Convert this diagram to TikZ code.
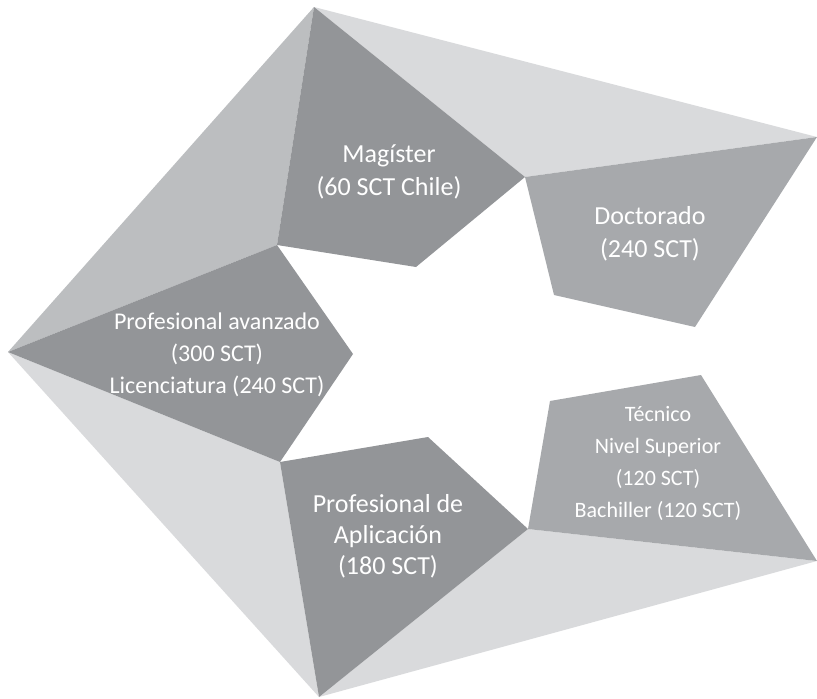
\documentclass[tikz,border=0pt]{standalone}
\usepackage{fontspec}
\setmainfont{Carlito}
\usepackage{tikz}
\usetikzlibrary{calc}

\definecolor{piecedark}{HTML}{939598}
\definecolor{piecemid}{HTML}{A7A9AC}
\definecolor{wedgemid}{HTML}{BCBEC0}
\definecolor{wedgelight}{HTML}{D9DADC}

\begin{document}
\begin{tikzpicture}[x=1pt,y=-1pt,
	grado/.style={text=white, align=center, inner sep=0pt, font=\fontsize{26}{33}\selectfont}]
\useasboundingbox (0,0) rectangle (817,699);
% outer points of the star
\coordinate (left) at (8,352);
\coordinate (top) at (314,7);
\coordinate (right) at (817,137);
\coordinate (rightlow) at (817,561);
\coordinate (bottom) at (319,697);
% inner joints
\coordinate (j1) at (277,245);
\coordinate (j2) at (525,177);
\coordinate (j3) at (528,529);
\coordinate (j4) at (280,462);

% light wedges
\fill[wedgemid] (left) -- (top) -- (j1) -- cycle;
\fill[wedgelight] (top) -- (right) -- (j2) -- cycle;
\fill[wedgelight] (j3) -- (rightlow) -- (bottom) -- cycle;
\fill[wedgelight] (left) -- (j4) -- (bottom) -- cycle;

% the five pieces
\fill[piecedark] (top) -- (j2) -- (416,267) -- (j1) -- cycle;
\fill[piecemid] (j2) -- (right) -- (695,327) -- (554,295) -- cycle;
\fill[piecemid] (550,401) -- (701,375) -- (rightlow) -- (j3) -- cycle;
\fill[piecedark] (j4) -- (428,437) -- (j3) -- (bottom) -- cycle;
\fill[piecedark] (left) -- (j1) -- (353,354) -- (j4) -- cycle;

\node[grado] (magister) at (389,172) {Magíster\\(60 SCT Chile)};
\node[grado] (doctorado) at (650,234) {Doctorado\\(240 SCT)};
\node[grado, font=\fontsize{24}{32}\selectfont] (avanzado) at (217,355)
	{Profesional avanzado\\(300 SCT)\\Licenciatura (240 SCT)};
\node[grado, font=\fontsize{26}{31}\selectfont] (aplicacion) at (388,536)
	{Profesional de\\Aplicación\\(180 SCT)};
\node[grado, font=\fontsize{22}{32}\selectfont] (tecnico) at (658,463)
	{Técnico\\Nivel Superior\\(120 SCT)\\Bachiller (120 SCT)};
\end{tikzpicture}
\end{document}
